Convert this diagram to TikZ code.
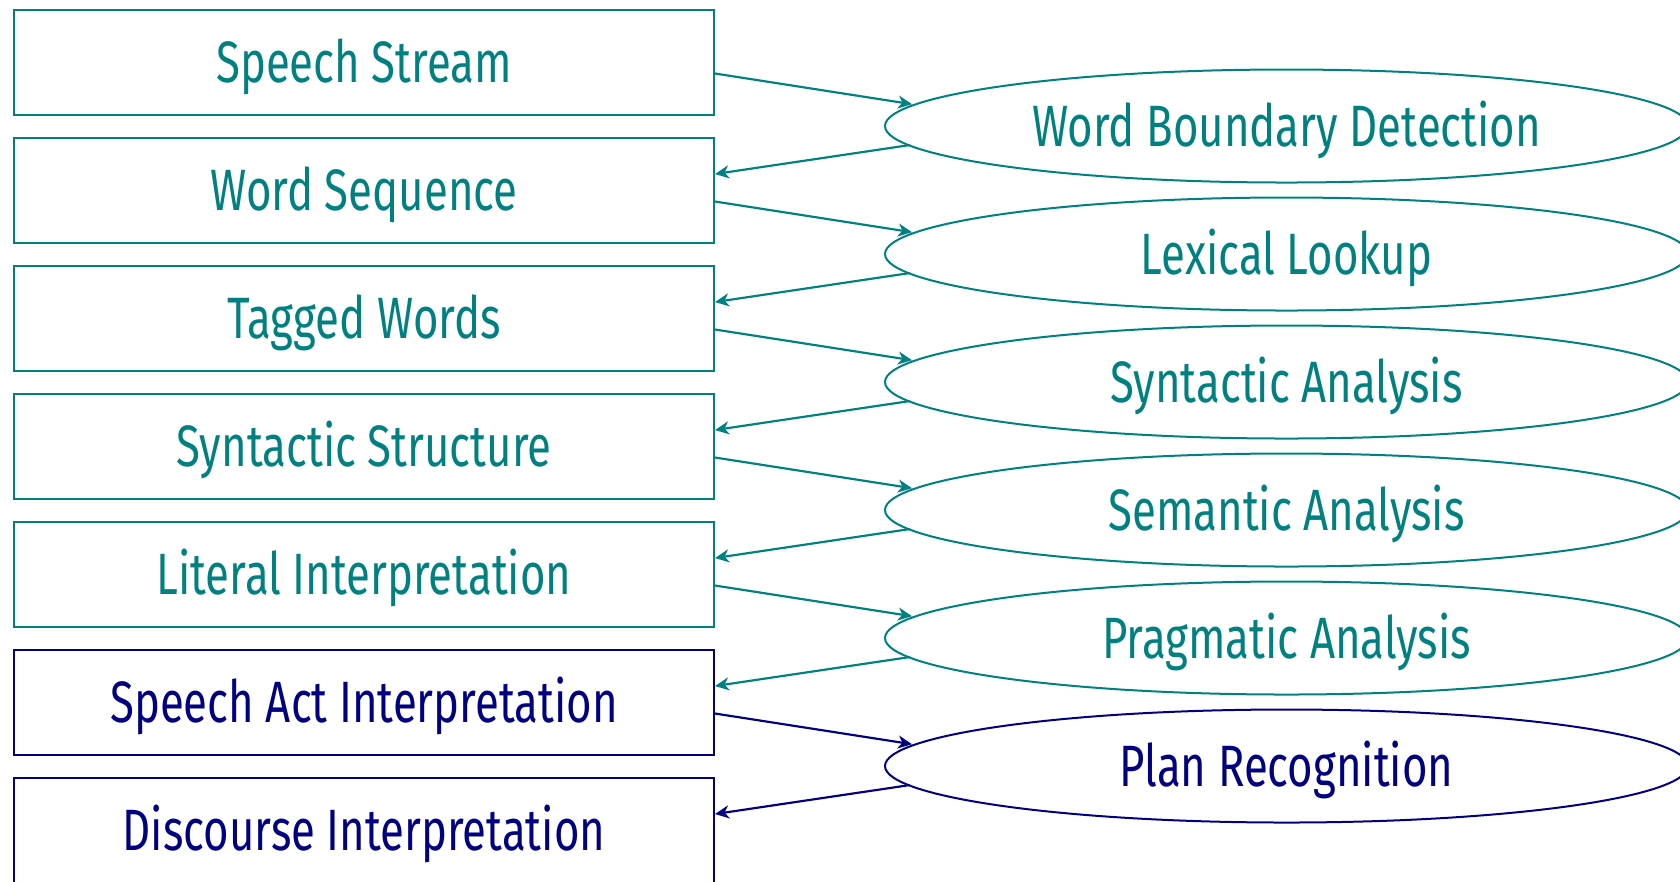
\documentclass[tikz,border=0pt]{standalone}
\usepackage{fontspec}
\setmainfont{Fira Sans}[FakeStretch=0.75]
\usetikzlibrary{shapes.geometric,arrows.meta,calc}
\definecolor{tealc}{RGB}{0,128,128}
\definecolor{navyc}{RGB}{0,0,128}
\begin{document}
\begin{tikzpicture}[x=0.3pt,y=-0.3pt,
  lbl/.style={font=\fontsize{17.5}{20}\selectfont,text height=12.3pt,text depth=0pt,inner sep=0pt},
  stagebox/.style={lbl,draw,rectangle,line width=0.6pt,minimum width=210pt,minimum height=31.5pt},
  procell/.style={lbl,draw,ellipse,line width=0.6pt,minimum width=240.9pt,minimum height=33.9pt},
  tl/.style={draw=tealc,text=tealc},
  nv/.style={draw=navyc,text=navyc},
  flow/.style={line width=0.65pt,-{Stealth[length=4.2pt,width=3.9pt,inset=1.3pt]}}]
\useasboundingbox (0,0) rectangle (1680,881);
\clip (0,0) rectangle (1680,881);
% boxes
\node[stagebox,tl] (b1) at (364,62)  {Speech Stream};
\node[stagebox,tl] (b2) at (364,190) {Word Sequence};
\node[stagebox,tl] (b3) at (364,318) {Tagged Words};
\node[stagebox,tl] (b4) at (364,446) {Syntactic Structure};
\node[stagebox,tl] (b5) at (364,574) {Literal Interpretation};
\node[stagebox,nv] (b6) at (364,702) {Speech Act Interpretation};
\node[stagebox,nv] (b7) at (364,830) {Discourse Interpretation};
% ellipses
\node[procell,tl] (e1) at (1286.5,126) {Word Boundary Detection};
\node[procell,tl] (e2) at (1286.5,254) {Lexical Lookup};
\node[procell,tl] (e3) at (1286.5,382) {Syntactic Analysis};
\node[procell,tl] (e4) at (1286.5,510) {Semantic Analysis};
\node[procell,tl] (e5) at (1286.5,638) {Pragmatic Analysis};
\node[procell,nv] (e6) at (1286.5,766) {Plan Recognition};
% connectors
\foreach \i/\j/\c in {1/2/tealc,2/3/tealc,3/4/tealc,4/5/tealc,5/6/tealc,6/7/navyc}{
  \draw[flow,draw=\c] ($(b\i.east)+(0,11.5)$) -- ($(e\i.center)+(-374.5,-21.8)$);
  \draw[flow,draw=\c] ($(e\i.center)+(-376.5,19)$) -- ($(b\j.east)+(0,-16)$);
}
\end{tikzpicture}
\end{document}
